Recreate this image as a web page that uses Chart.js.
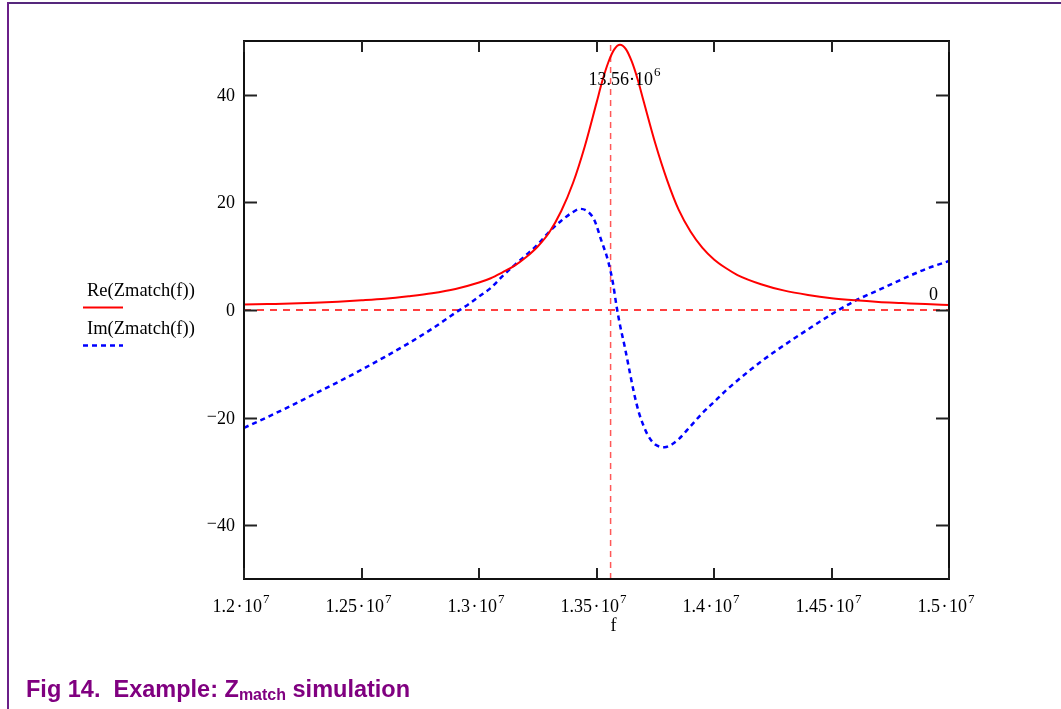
<!DOCTYPE html>
<html>
<head>
<meta charset="utf-8">
<script src="https://cdn.jsdelivr.net/npm/chart.js@4.4.0/dist/chart.umd.min.js"></script>
<style>
  html, body { margin: 0; padding: 0; background: #fff; }
  #page { position: relative; width: 1061px; height: 709px; overflow: hidden; background: #fff; }
  #frameTop { position: absolute; left: 8px; top: 2px; width: 1053px; height: 2px; background: #55287c; }
  #frameLeft { position: absolute; left: 7px; top: 2px; width: 2px; height: 707px; background: #6a1f88; }
  #chart { position: absolute; left: 0; top: 0; }
  #caption { position: absolute; left: 26px; top: 678px; font: bold 23.5px "Liberation Sans", Arial, sans-serif;
             color: #800080; white-space: pre; line-height: 23px; }
  #caption sub { font-size: 16px; vertical-align: -3px; line-height: 0; }
</style>
</head>
<body>
<div id="page">
  <div id="frameTop"></div>
  <div id="frameLeft"></div>
  <canvas id="chart" width="1061" height="709"></canvas>
  <div id="caption">Fig 14.  Example: Z<sub>match</sub> simulation</div>
</div>
<script>
// Real part of Zmatch(f): frequency (MHz) and value
const reFreqMHz = [12.00, 12.10, 12.20, 12.30, 12.40, 12.50, 12.60, 12.70, 12.80, 12.90,
                   13.00, 13.05, 13.10, 13.15, 13.20, 13.25, 13.30, 13.35, 13.40, 13.45,
                   13.50, 13.525, 13.55, 13.575, 13.60, 13.625, 13.65, 13.675, 13.70, 13.75,
                   13.80, 13.85, 13.90, 13.95, 14.00, 14.05, 14.10, 14.20, 14.30, 14.40,
                   14.50, 14.60, 14.70, 14.80, 14.90, 15.00];
const reValues  = [1.0, 1.1, 1.2, 1.35, 1.55, 1.8, 2.1, 2.55, 3.1, 3.9,
                   5.1, 5.9, 7.0, 8.2, 9.8, 11.8, 14.5, 18.4, 23.6, 30.4,
                   38.5, 42.6, 46.0, 48.4, 49.3, 48.5, 46.2, 42.9, 38.9, 31.0,
                   24.2, 18.6, 14.6, 11.6, 9.4, 7.8, 6.5, 4.8, 3.6, 2.8,
                   2.2, 1.8, 1.5, 1.3, 1.1, 0.95];

// Imaginary part of Zmatch(f): frequency (MHz) and value
const imFreqMHz = [12.00, 12.10, 12.20, 12.30, 12.40, 12.50, 12.60, 12.70, 12.80, 12.90,
                   12.95, 13.00, 13.05, 13.10, 13.15, 13.20, 13.25, 13.30, 13.35, 13.40,
                   13.43, 13.46, 13.49, 13.52, 13.55, 13.57, 13.585, 13.60, 13.62, 13.64,
                   13.66, 13.68, 13.70, 13.72, 13.75, 13.79, 13.82, 13.85, 13.90, 13.95,
                   14.00, 14.05, 14.10, 14.15, 14.20, 14.25, 14.30, 14.40, 14.50, 14.60,
                   14.70, 14.80, 14.90, 15.00];
const imValues  = [-21.9, -19.9, -17.8, -15.6, -13.4, -11.1, -8.7, -6.2, -3.5, -0.5,
                   0.9, 2.5, 4.1, 6.3, 8.3, 10.2, 12.2, 14.6, 16.6, 18.2,
                   18.8, 18.4, 16.8, 13.0, 9.0, 5.0, 0.8, -2.8, -6.8, -11.2,
                   -15.5, -19.0, -21.5, -23.4, -25.0, -25.5, -25.0, -24.0, -21.6, -19.2,
                   -17.1, -15.0, -13.1, -11.3, -9.6, -8.0, -6.5, -3.6, -0.8, 1.7,
                   3.7, 5.7, 7.6, 9.1];

// Axis ticks and their labels
const xTicks = [1.2e7, 1.25e7, 1.3e7, 1.35e7, 1.4e7, 1.45e7, 1.5e7];
const xTickMantissas = ['1.2', '1.25', '1.3', '1.35', '1.4', '1.45', '1.5'];
const xTickExponent = '7';
const yTicks = [40, 20, 0, -20, -40];
const yTickLabels = ['40', '20', '0', '\u221220', '\u221240'];
const xTitle = 'f';

// Markers: vertical at 13.56 MHz, horizontal at 0
const markerFreq = 13.56e6;
const markerFreqText = ['13.56\u00B710', '6'];
const markerLevel = 0;
const markerLevelText = '0';

const seriesLabels = ['Re(Zmatch(f))', 'Im(Zmatch(f))'];

const toPoints = (fs, vs) => fs.map((f, i) => ({ x: f * 1e6, y: vs[i] }));

const SERIF = '"Liberation Serif", "Times New Roman", serif';

function strokeLine(ctx, x1, y1, x2, y2) {
  ctx.beginPath(); ctx.moveTo(x1, y1); ctx.lineTo(x2, y2); ctx.stroke();
}

// Number with a raised power-of-ten exponent, e.g. 1.2·10^7
function drawPower(ctx, base, exp, x, baseline, centered) {
  ctx.font = '18px ' + SERIF;
  const w1 = ctx.measureText(base).width;
  ctx.font = '13px ' + SERIF;
  const w2 = ctx.measureText(exp).width;
  const left = centered ? x - (w1 + 1 + w2) / 2 : x;
  ctx.textAlign = 'left';
  ctx.font = '18px ' + SERIF;
  ctx.fillText(base, left, baseline);
  ctx.font = '13px ' + SERIF;
  ctx.fillText(exp, left + w1 + 1, baseline - 9);
}

const axisDecor = {
  id: 'axisDecor',
  afterDraw(chart) {
    const { ctx, chartArea: a, scales: { x, y } } = chart;
    ctx.save();
    ctx.fillStyle = '#000';
    ctx.textBaseline = 'alphabetic';

    // plot frame
    ctx.strokeStyle = '#111';
    ctx.lineWidth = 2;
    ctx.strokeRect(a.left, a.top, a.right - a.left, a.bottom - a.top);

    // inward tick marks on all four sides
    ctx.strokeStyle = '#222';
    yTicks.forEach(v => {
      const py = Math.round(y.getPixelForValue(v)) + 0.5;
      strokeLine(ctx, a.left, py, a.left + 13, py);
      strokeLine(ctx, a.right - 13, py, a.right, py);
    });
    xTicks.forEach(v => {
      const px = Math.round(x.getPixelForValue(v));
      strokeLine(ctx, px, a.bottom, px, a.bottom - 11);
      strokeLine(ctx, px, a.top, px, a.top + 11);
    });

    // y tick labels (raised minus sign)
    yTickLabels.forEach((lab, i) => {
      const py = y.getPixelForValue(yTicks[i]);
      const right = a.left - 9;
      ctx.font = '18px ' + SERIF;
      ctx.textAlign = 'right';
      if (lab.startsWith('\u2212')) {
        const digits = lab.slice(1);
        const w = ctx.measureText(digits).width;
        ctx.fillText(digits, right, py + 6);
        ctx.fillText('\u2212', right - w, py + 4);
      } else {
        ctx.fillText(lab, right, py + 6);
      }
    });

    // x tick labels
    xTicks.forEach((v, i) => {
      const px = x.getPixelForValue(v);
      drawPower(ctx, xTickMantissas[i] + '\u200A\u00B7\u200A10', xTickExponent, px - 3, a.bottom + 33, true);
    });

    // x axis title
    ctx.font = '18px ' + SERIF;
    ctx.textAlign = 'center';
    ctx.fillText(xTitle, x.getPixelForValue(markerFreq) + 3, a.bottom + 52);

    // marker values
    const mx = x.getPixelForValue(markerFreq);
    drawPower(ctx, markerFreqText[0], markerFreqText[1], mx - 22, a.top + 44, false);
    ctx.font = '18px ' + SERIF;
    ctx.textAlign = 'right';
    ctx.fillText(markerLevelText, a.right - 11, y.getPixelForValue(markerLevel) - 10);

    // legend at the left of the plot
    const ds = chart.data.datasets;
    ctx.textAlign = 'left';
    ctx.font = '18.5px ' + SERIF;
    [0, 1].forEach(i => {
      const top = 296 + i * 38;
      ctx.fillStyle = '#000';
      ctx.fillText(seriesLabels[i], 87, top);
      ctx.strokeStyle = ds[i].borderColor;
      ctx.lineWidth = ds[i].borderWidth;
      ctx.setLineDash(ds[i].borderDash || []);
      strokeLine(ctx, 83, top + 11.5, 123, top + 11.5);
      ctx.setLineDash([]);
    });
    ctx.restore();
  }
};

new Chart(document.getElementById('chart'), {
  type: 'line',
  data: {
    datasets: [
      { label: seriesLabels[0], data: toPoints(reFreqMHz, reValues),
        borderColor: '#ff0000', borderWidth: 2, cubicInterpolationMode: 'monotone',
        pointRadius: 0, fill: false },
      { label: seriesLabels[1], data: toPoints(imFreqMHz, imValues),
        borderColor: '#0000ff', borderWidth: 2.5, borderDash: [5, 4], cubicInterpolationMode: 'monotone',
        pointRadius: 0, fill: false },
      { label: 'marker f', data: [{ x: markerFreq, y: -50 }, { x: markerFreq, y: 50 }],
        borderColor: 'rgba(255,70,70,0.9)', borderWidth: 1.5, borderDash: [6, 5],
        pointRadius: 0, fill: false },
      { label: 'marker 0', data: [{ x: 1.2e7, y: markerLevel }, { x: 1.5e7, y: markerLevel }],
        borderColor: '#ff0000', borderWidth: 1.5, borderDash: [7, 6],
        pointRadius: 0, fill: false }
    ]
  },
  options: {
    responsive: false,
    animation: false,
    devicePixelRatio: 1,
    layout: { padding: { left: 244, top: 41, right: 112, bottom: 130 } },
    plugins: { legend: { display: false }, tooltip: { enabled: false } },
    scales: {
      x: { type: 'linear', min: 1.2e7, max: 1.5e7, display: false },
      y: { type: 'linear', min: -50, max: 50, display: false }
    }
  },
  plugins: [axisDecor]
});
</script>
</body>
</html>
